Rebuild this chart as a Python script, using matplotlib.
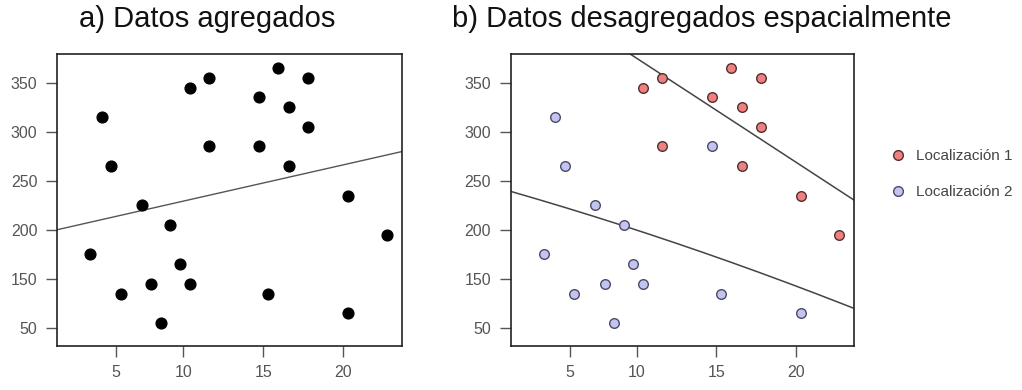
import numpy as np
import matplotlib.pyplot as plt
from matplotlib.lines import Line2D

plt.rcParams['font.family'] = ['Liberation Sans', 'DejaVu Sans']

# Observations (x, y) and the location each belongs to
x_vals = [4.2, 4.9, 5.5, 6.1, 7.4, 8.0, 8.6, 9.2, 9.8, 10.4, 10.4, 11.6,
          11.6, 14.7, 14.7, 15.3, 15.9, 16.6, 16.6, 17.8, 17.8, 20.3, 20.3, 22.7]
y_vals = [175, 315, 265, 135, 225, 145, 105, 205, 165, 145, 345, 355,
          285, 335, 285, 135, 365, 325, 265, 355, 305, 235, 115, 195]
location = [2, 2, 2, 2, 2, 2, 2, 2, 2, 2, 1, 1,
            1, 1, 2, 2, 1, 1, 1, 1, 1, 1, 2, 1]

# Fitted lines (polynomial coefficients, highest power first)
fit_all = [3.7, 192.3]
fit_loc1 = [-10.6, 480.9]
fit_loc2 = [-0.04, -4.506, 248.87]

xtick_pos = [5.8, 10, 15, 20]
xtick_labels = ['5', '10', '15', '20']
ytick_pos = [100, 150, 200, 250, 300, 350]
ytick_labels = ['50', '150', '200', '250', '300', '350']

x = np.array(x_vals)
y = np.array(y_vals)
loc = np.array(location)

fig = plt.figure(figsize=(10.22, 3.9), dpi=100)
ax1 = fig.add_axes([0.0555, 0.1128, 0.3377, 0.7487])
ax2 = fig.add_axes([0.4997, 0.1128, 0.3362, 0.7487])

xlim = (2.1, 23.65)
ylim = (81.7, 379.2)
xx = np.linspace(xlim[0], xlim[1], 200)

for ax in (ax1, ax2):
    ax.set_xlim(xlim)
    ax.set_ylim(ylim)
    ax.set_xticks(xtick_pos, xtick_labels)
    ax.set_yticks(ytick_pos, ytick_labels)
    ax.tick_params(length=8, width=1, color='#555555', labelcolor='#555555',
                   labelsize=11.5, pad=6)
    for sp in ax.spines.values():
        sp.set_linewidth(1.2)
        sp.set_color('#222222')

# a) all data together
ax1.plot(xx, np.polyval(fit_all, xx), color='#555555', lw=1.0)
ax1.scatter(x, y, s=60, color='black', zorder=3)
fig.text(0.077, 0.93, 'a) Datos agregados', fontsize=21, color='#111111')

# b) split by location
red = '#ef8080'
blue = '#c4c4f0'
ax2.plot(xx, np.polyval(fit_loc1, xx), color='#444444', lw=1.1)
ax2.plot(xx, np.polyval(fit_loc2, xx), color='#444444', lw=1.1)
m1 = loc == 1
m2 = loc == 2
ax2.scatter(x[m1], y[m1], s=48, color=red, edgecolor='#503030', lw=1.0, zorder=3)
ax2.scatter(x[m2], y[m2], s=48, color=blue, edgecolor='#4a4a66', lw=1.0, zorder=3)
fig.text(0.442, 0.93, 'b) Datos desagregados espacialmente', fontsize=21, color='#111111')

handles = [
    Line2D([], [], ls='', marker='o', ms=7, mfc=red, mec='#503030', mew=1.0),
    Line2D([], [], ls='', marker='o', ms=7, mfc=blue, mec='#4a4a66', mew=1.0),
]
fig.legend(handles, ['Localización 1', 'Localización 2'], loc='upper left',
           bbox_to_anchor=(0.859, 0.652), frameon=False, fontsize=11,
           labelcolor='#444444', handletextpad=0.8, labelspacing=1.4,
           handlelength=0.8)

fig.savefig('out.png', dpi=100)
